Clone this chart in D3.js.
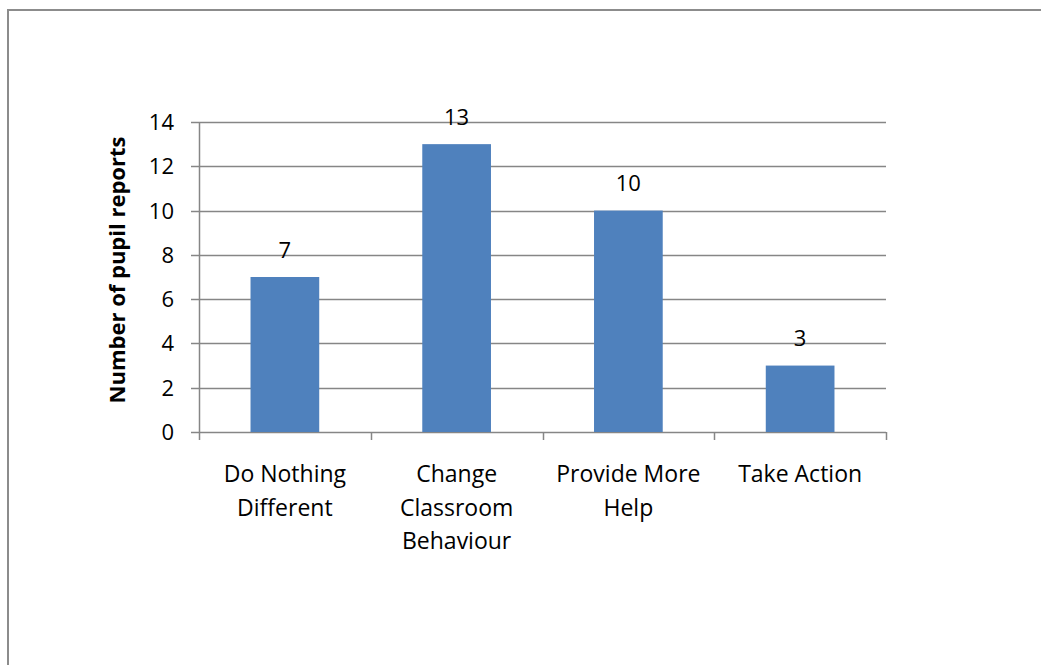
<!DOCTYPE html>
<html>
<head>
<meta charset="utf-8">
<script src="https://cdn.jsdelivr.net/npm/d3@7"></script>
<style>
  html, body { margin: 0; padding: 0; background: #fff; }
  svg { display: block; }
  text { font-family: "Open Sans", Lato, "Liberation Sans", sans-serif; fill: #000; }
</style>
</head>
<body>
<svg id="chart" width="1041" height="665"></svg>
<script>
// Responses grouped by what the teacher did next
const categories = [
  ["Do Nothing", "Different"],
  ["Change", "Classroom", "Behaviour"],
  ["Provide More", "Help"],
  ["Take Action"]
];
const categoryKeys = ["Do Nothing Different", "Change Classroom Behaviour", "Provide More Help", "Take Action"];
const reports = [7, 13, 10, 3];
const yTicks = [0, 2, 4, 6, 8, 10, 12, 14];
const yTitle = "Number of pupil reports";

const svg = d3.select("#chart");

// outer frame of the chart area
svg.append("rect")
  .attr("x", 8).attr("y", 10)
  .attr("width", 1100).attr("height", 700)
  .attr("fill", "#fff")
  .attr("stroke", "#8c8c8c").attr("stroke-width", 2);

const plot = { left: 199, right: 886, top: 122, bottom: 432 };

const x = d3.scaleBand()
  .domain(categoryKeys)
  .range([plot.left, plot.right])
  .padding(0);

const y = d3.scaleLinear()
  .domain([0, 14])
  .range([plot.bottom, plot.top]);

const gridColor = "#868686";
const numSize = 22;
const catSize = 23;

// horizontal gridlines
svg.append("g")
  .selectAll("line")
  .data(yTicks)
  .join("line")
  .attr("x1", plot.left - 8).attr("x2", plot.right)
  .attr("y1", d => Math.round(y(d)) + 0.5).attr("y2", d => Math.round(y(d)) + 0.5)
  .attr("stroke", gridColor).attr("stroke-width", 1.5);

// y axis line
svg.append("line")
  .attr("x1", plot.left + 0.5).attr("x2", plot.left + 0.5)
  .attr("y1", plot.top).attr("y2", plot.bottom)
  .attr("stroke", gridColor).attr("stroke-width", 1.5);

// y tick labels
svg.append("g")
  .selectAll("text")
  .data(yTicks)
  .join("text")
  .attr("x", 174)
  .attr("y", d => y(d) + 8)
  .attr("text-anchor", "end")
  .attr("font-size", numSize)
  .text(d => d);

// x category boundary ticks
const boundaries = categoryKeys.map(k => x(k)).concat([x(categoryKeys[3]) + x.bandwidth()]);
svg.append("g")
  .selectAll("line")
  .data(boundaries)
  .join("line")
  .attr("x1", d => Math.round(d) + 0.5).attr("x2", d => Math.round(d) + 0.5)
  .attr("y1", plot.bottom).attr("y2", plot.bottom + 8)
  .attr("stroke", gridColor).attr("stroke-width", 1.5);

// bars
const barW = x.bandwidth() * 0.4;
svg.append("g")
  .selectAll("rect")
  .data(reports)
  .join("rect")
  .attr("x", (d, i) => x(categoryKeys[i]) + (x.bandwidth() - barW) / 2)
  .attr("y", d => y(d))
  .attr("width", barW)
  .attr("height", d => y(0) - y(d))
  .attr("fill", "#4f81bd");

// value labels
svg.append("g")
  .selectAll("text")
  .data(reports)
  .join("text")
  .attr("x", (d, i) => x(categoryKeys[i]) + x.bandwidth() / 2)
  .attr("y", d => y(d) - 19.5)
  .attr("text-anchor", "middle")
  .attr("font-size", numSize)
  .text(d => d);

// category labels
const catG = svg.append("g");
categories.forEach((lines, i) => {
  const cx = x(categoryKeys[i]) + x.bandwidth() / 2;
  const t = catG.append("text")
    .attr("text-anchor", "middle")
    .attr("font-size", catSize)
    .attr("x", cx)
    .attr("y", 482);
  lines.forEach((ln, j) => {
    t.append("tspan")
      .attr("x", cx)
      .attr("y", 482 + j * 33.5)
      .text(ln);
  });
});

// y axis title
svg.append("text")
  .attr("transform", "translate(125,270) rotate(-90)")
  .attr("text-anchor", "middle")
  .attr("font-size", 22)
  .attr("font-weight", "bold")
  .text(yTitle);
</script>
</body>
</html>
